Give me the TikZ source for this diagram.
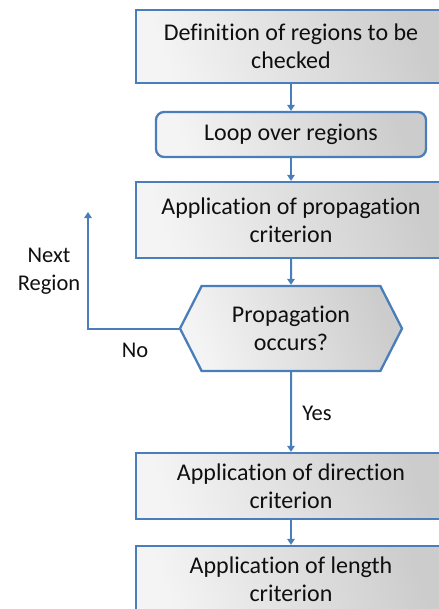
\documentclass[tikz,border=0pt]{standalone}
\usepackage{fontspec}
\setmainfont{Carlito}[Ligatures=NoCommon]
\usetikzlibrary{arrows.meta,shapes.symbols}

\definecolor{flowblue}{RGB}{74,126,187}
\definecolor{fillhi}{RGB}{244,244,244}
\definecolor{filllo}{RGB}{204,204,204}
\definecolor{inktext}{RGB}{15,15,15}

\tikzset{
  stepbox/.style={draw=flowblue, line width=2.3bp, top color=fillhi, bottom color=filllo,
    shading angle=110, align=center, inner sep=0pt, text=inktext,
    font=\fontsize{24bp}{28bp}\selectfont},
  roundbox/.style={stepbox, rounded corners=8bp},
  decisionbox/.style={stepbox, shape=signal, signal to=west and east,
    signal pointer angle=126},
  flow/.style={draw=flowblue, line width=2bp, -{Triangle[length=6bp,width=7.5bp]}},
  lbl/.style={text=inktext, align=center, inner sep=0pt,
    font=\fontsize{22.5bp}{28bp}\selectfont},
}

\begin{document}
\begin{tikzpicture}[x=1bp, y=-1bp]
  \useasboundingbox (0,0) rectangle (439,609);

  \node[stepbox, minimum width=310bp, minimum height=73bp] (define) at (291,46.5)
    {Definition of regions to be\\checked};
  \node[roundbox, minimum width=270bp, minimum height=45bp] (loop) at (291,134.5)
    {Loop over regions};
  \node[stepbox, minimum width=310bp, minimum height=76bp] (prop) at (291,220)
    {Application of propagation\\criterion};
  \node[decisionbox, minimum width=222bp, minimum height=85bp] (occurs) at (291,328.5)
    {Propagation\\occurs?};
  \node[stepbox, minimum width=310bp, minimum height=66bp] (dir) at (291,486)
    {Application of direction\\criterion};
  \node[stepbox, minimum width=310bp, minimum height=66bp] (len) at (291,579)
    {Application of length\\criterion};

  \coordinate (turn) at (88,328.5);
  \coordinate (next) at (88,212);

  \draw[flow] (define) -- (loop);
  \draw[flow] (loop) -- (prop);
  \draw[flow] (prop) -- (occurs);
  \draw[flow] (occurs) -- (dir);
  \draw[flow] (dir) -- (len);
  \draw[flow] (occurs.west) -- (turn) -- (next);

  \node[lbl] (yes) at (317,413) {Yes};
  \node[lbl] (no) at (135,350) {No};
  \node[lbl] (nextlbl) at (49,271) {Next\\Region};
\end{tikzpicture}
\end{document}
